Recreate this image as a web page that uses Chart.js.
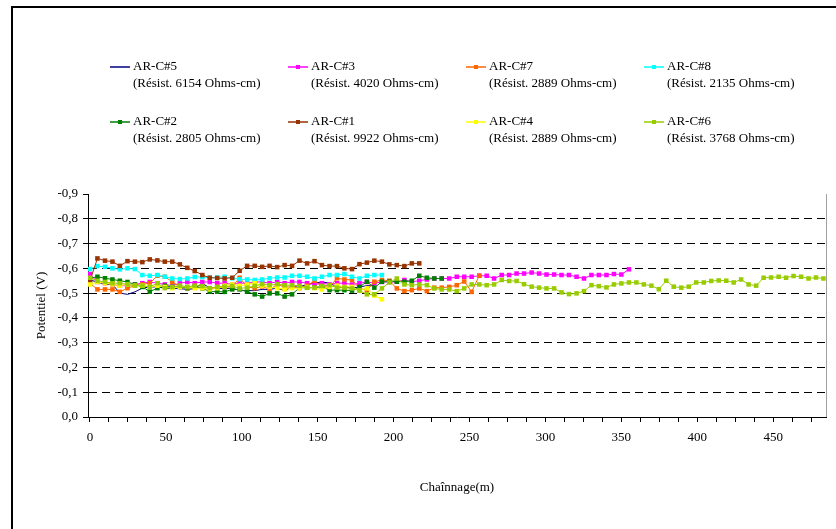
<!DOCTYPE html>
<html>
<head>
<meta charset="utf-8">
<script src="https://cdn.jsdelivr.net/npm/chart.js@4.4.0/dist/chart.umd.min.js"></script>
<style>
  html, body { margin: 0; padding: 0; background: #fff; }
  #wrap { width: 836px; height: 529px; }
</style>
</head>
<body>
<div id="wrap"><canvas id="chart" width="836" height="529"></canvas></div>
<script>
// chainage (m) of the readings
const chainage = [0, 4.9, 9.9, 14.8, 19.7, 24.7, 29.6, 34.5, 39.4, 44.4,
  49.3, 54.2, 59.2, 64.1, 69.0, 74.0, 78.9, 83.8, 88.7, 93.7,
  98.6, 103.5, 108.5, 113.4, 118.3, 123.3, 128.2, 133.1, 138.0, 143.0,
  147.9, 152.8, 157.8, 162.7, 167.6, 172.6, 177.5, 182.4, 187.3, 192.3,
  197.2, 202.1, 207.1, 212.0, 216.9, 221.9, 226.8, 231.7, 236.6, 241.6,
  246.5, 251.4, 256.4, 261.3, 266.2, 271.2, 276.1, 281.0, 285.9, 290.9,
  295.8, 300.7, 305.7, 310.6, 315.5, 320.5, 325.4, 330.3, 335.2, 340.2,
  345.1, 350.0, 355.0, 359.9, 364.8, 369.8, 374.7, 379.6, 384.5, 389.5,
  394.4, 399.3, 404.3, 409.2, 414.1, 419.1, 424.0, 428.9, 433.8, 438.8,
  443.7, 448.6, 453.6, 458.5, 463.4, 468.4, 473.3, 478.2, 483.1]

const seriesNames = ["AR-C#5", "AR-C#3", "AR-C#7", "AR-C#8", "AR-C#2", "AR-C#1", "AR-C#4", "AR-C#6"]
const resistivity = ["(Résist. 6154 Ohms-cm)", "(Résist. 4020 Ohms-cm)", "(Résist. 2889 Ohms-cm)", "(Résist. 2135 Ohms-cm)",
  "(Résist. 2805 Ohms-cm)", "(Résist. 9922 Ohms-cm)", "(Résist. 2889 Ohms-cm)", "(Résist. 3768 Ohms-cm)"]
const colors = ["#000080", "#FF00FF", "#FF6600", "#00FFFF", "#008000", "#993300", "#FFFF00", "#99CC00"]

const arc5 = [-0.553, -0.545, -0.535, -0.535, -0.500, -0.495, -0.505, -0.520, -0.525, -0.525,
  -0.520, -0.520, -0.518, -0.515, -0.518, -0.540, -0.520, -0.520, -0.518, -0.520,
  -0.510, -0.510, -0.510, -0.515, -0.515, -0.520, -0.510, -0.525, -0.525, -0.535,
  -0.540, -0.545, -0.540, -0.525, -0.525, -0.520, -0.525, -0.530, -0.530]
const arc3 = [-0.577, -0.545, -0.540, -0.535, -0.530, -0.530, -0.535, -0.540, -0.545, -0.540,
  -0.535, -0.530, -0.540, -0.545, -0.540, -0.545, -0.545, -0.540, -0.540, -0.535,
  -0.540, -0.540, -0.545, -0.545, -0.540, -0.545, -0.540, -0.545, -0.545, -0.540,
  -0.535, -0.540, -0.535, -0.540, -0.540, -0.535, -0.540, -0.545, -0.540, -0.545,
  -0.545, -0.546, -0.553, -0.546, -0.550, -0.555, -0.559, -0.559, -0.559, -0.566,
  -0.566, -0.566, -0.570, -0.570, -0.559, -0.573, -0.573, -0.579, -0.579, -0.583,
  -0.579, -0.575, -0.575, -0.573, -0.573, -0.566, -0.559, -0.573, -0.573, -0.573,
  -0.577, -0.575, -0.596]
const arc7 = [-0.540, -0.515, -0.515, -0.515, -0.505, -0.520, -0.530, -0.535, -0.540, -0.570,
  -0.566, -0.546, -0.525, -0.519, -0.525, -0.520, -0.520, -0.525, -0.525, -0.525,
  -0.562, -0.525, -0.520, -0.527, -0.515, -0.535, -0.525, -0.525, -0.520, -0.530,
  -0.550, -0.525, -0.525, -0.560, -0.555, -0.553, -0.519, -0.512, -0.546, -0.553,
  -0.550, -0.519, -0.508, -0.512, -0.519, -0.508, -0.522, -0.522, -0.525, -0.532,
  -0.547, -0.505, -0.570]
const arc8 = [-0.597, -0.609, -0.606, -0.600, -0.596, -0.600, -0.597, -0.573, -0.570, -0.573,
  -0.566, -0.559, -0.557, -0.559, -0.565, -0.565, -0.562, -0.563, -0.566, -0.560,
  -0.556, -0.555, -0.553, -0.555, -0.560, -0.563, -0.563, -0.570, -0.570, -0.566,
  -0.559, -0.566, -0.573, -0.573, -0.577, -0.566, -0.559, -0.570, -0.573, -0.573]
const arc2 = [-0.560, -0.566, -0.560, -0.555, -0.550, -0.545, -0.535, -0.525, -0.506, -0.520,
  -0.530, -0.525, -0.525, -0.520, -0.525, -0.520, -0.506, -0.506, -0.505, -0.515,
  -0.515, -0.506, -0.495, -0.486, -0.499, -0.499, -0.486, -0.495, -0.522, -0.522,
  -0.522, -0.526, -0.512, -0.512, -0.512, -0.510, -0.525, -0.546, -0.522, -0.546,
  -0.546, -0.546, -0.546, -0.550, -0.570, -0.562, -0.559, -0.559]
const arc1 = [-0.550, -0.640, -0.631, -0.627, -0.610, -0.629, -0.627, -0.625, -0.636, -0.632,
  -0.627, -0.627, -0.616, -0.602, -0.589, -0.573, -0.562, -0.561, -0.559, -0.562,
  -0.590, -0.610, -0.610, -0.606, -0.610, -0.605, -0.613, -0.610, -0.631, -0.620,
  -0.629, -0.613, -0.609, -0.609, -0.600, -0.597, -0.617, -0.623, -0.631, -0.627,
  -0.616, -0.613, -0.609, -0.620, -0.620]
const arc4 = [-0.535, -0.545, -0.540, -0.535, -0.530, -0.535, -0.530, -0.530, -0.525, -0.530,
  -0.525, -0.520, -0.525, -0.525, -0.520, -0.520, -0.515, -0.520, -0.530, -0.535,
  -0.530, -0.535, -0.540, -0.530, -0.525, -0.520, -0.515, -0.520, -0.520, -0.525,
  -0.520, -0.515, -0.525, -0.530, -0.525, -0.525, -0.510, -0.519, -0.490, -0.475]
const arc6 = [-0.562, -0.550, -0.545, -0.540, -0.540, -0.535, -0.530, -0.530, -0.525, -0.540,
  -0.520, -0.525, -0.530, -0.525, -0.530, -0.528, -0.520, -0.525, -0.526, -0.529,
  -0.519, -0.522, -0.529, -0.536, -0.532, -0.536, -0.532, -0.532, -0.529, -0.522,
  -0.522, -0.529, -0.532, -0.522, -0.522, -0.519, -0.510, -0.495, -0.495, -0.519,
  -0.543, -0.559, -0.535, -0.532, -0.535, -0.532, -0.519, -0.515, -0.515, -0.508,
  -0.519, -0.535, -0.535, -0.532, -0.535, -0.553, -0.549, -0.549, -0.536, -0.526,
  -0.522, -0.519, -0.519, -0.503, -0.496, -0.499, -0.508, -0.532, -0.528, -0.523,
  -0.535, -0.539, -0.543, -0.543, -0.535, -0.530, -0.516, -0.550, -0.526, -0.522,
  -0.526, -0.543, -0.543, -0.549, -0.551, -0.550, -0.543, -0.555, -0.535, -0.530,
  -0.562, -0.563, -0.566, -0.562, -0.569, -0.566, -0.559, -0.563, -0.559]

const seriesValues = [arc5, arc3, arc7, arc8, arc2, arc1, arc4, arc6]

const toPoints = (vals) => vals.map((v, i) => ({x: chainage[i], y: v}))

const serif = "'Liberation Serif', 'Times New Roman', serif"

// two-line legend above the plot + outer frame
const legendPlugin = {
    id: 'twoLineLegend',
    afterDraw(chart) {
        const ctx = chart.ctx
        ctx.save()
        ctx.strokeStyle = '#000'
        ctx.lineWidth = 2
        ctx.strokeRect(12, 7, 900, 700)

        // right edge of the plot
        ctx.strokeStyle = '#a0a0a0'
        ctx.lineWidth = 1
        ctx.beginPath()
        ctx.moveTo(chart.chartArea.right + 0.5, chart.chartArea.top)
        ctx.lineTo(chart.chartArea.right + 0.5, chart.chartArea.bottom)
        ctx.stroke()

        ctx.font = "13px " + serif
        ctx.fillStyle = '#000'
        ctx.textBaseline = 'middle'
        chart.data.datasets.forEach((ds, i) => {
            const textX = 133 + (i % 4) * 178
            const y = 67 + Math.floor(i / 4) * 55
            ctx.strokeStyle = ds.borderColor
            ctx.lineWidth = 1.5
            ctx.beginPath()
            ctx.moveTo(textX - 23, y)
            ctx.lineTo(textX - 3, y)
            ctx.stroke()
            if (ds.pointRadius > 0) {
                ctx.fillStyle = ds.borderColor
                ctx.fillRect(textX - 15, y - 2, 4, 4)
            }
            ctx.fillStyle = '#000'
            ctx.fillText(ds.label, textX, y)
            ctx.fillText(resistivity[i], textX, y + 17)
        })
        ctx.restore()
    }
}

const ctx = document.getElementById('chart').getContext('2d')
new Chart(ctx, {
    type: 'line',
    data: {
        datasets: seriesValues.map((vals, i) => ({
            label: seriesNames[i],
            data: toPoints(vals),
            borderColor: colors[i],
            backgroundColor: colors[i],
            borderWidth: 1,
            tension: 0,
            pointStyle: 'rect',
            pointRadius: i === 0 ? 0 : 3.2,
            pointBorderWidth: 0,
            pointHoverRadius: 0,
            order: seriesValues.length - i,
            fill: false
        }))
    },
    options: {
        responsive: false,
        animation: false,
        events: [],
        layout: {
            padding: {left: 30, top: 194, right: 10, bottom: 30}
        },
        plugins: {
            legend: {display: false},
            tooltip: {enabled: false}
        },
        scales: {
            x: {
                type: 'linear',
                min: -1.3,
                max: 484.8,
                afterFit: (scale) => { scale.height = 82 },
                title: {
                    display: true,
                    text: 'Chaînnage(m)',
                    color: '#000',
                    font: {family: serif, size: 13}
                },
                grid: {
                    display: true,
                    drawOnChartArea: false,
                    drawTicks: true,
                    tickLength: 5,
                    tickColor: '#000'
                },
                border: {display: true, color: '#000', width: 1},
                ticks: {
                    stepSize: 12.5,
                    includeBounds: false,
                    autoSkip: false,
                    maxRotation: 0,
                    padding: 8,
                    color: '#000',
                    font: {family: serif, size: 13},
                    callback: (v) => (v % 50 === 0 ? String(v) : '')
                }
            },
            y: {
                type: 'linear',
                min: -0.9,
                max: 0,
                reverse: true,
                afterFit: (scale) => { scale.width = 58 },
                title: {
                    display: true,
                    text: 'Potentiel (V)',
                    color: '#000',
                    font: {family: serif, size: 13}
                },
                grid: {
                    drawTicks: true,
                    tickLength: 5,
                    tickColor: '#000',
                    tickBorderDash: [],
                    color: (c) => {
                        const v = c.tick ? c.tick.value : 0
                        return (Math.abs(v) < 1e-6 || v < -0.899) ? 'rgba(0,0,0,0)' : '#000'
                    }
                },
                border: {display: true, color: '#000', width: 1, dash: [8, 5]},
                ticks: {
                    stepSize: 0.1,
                    padding: 5,
                    color: '#000',
                    font: {family: serif, size: 13},
                    callback: (v) => (Math.abs(v) < 1e-6 ? '0,0' : v.toFixed(1).replace('.', ','))
                }
            }
        }
    },
    plugins: [legendPlugin]
})
</script>
</body>
</html>
